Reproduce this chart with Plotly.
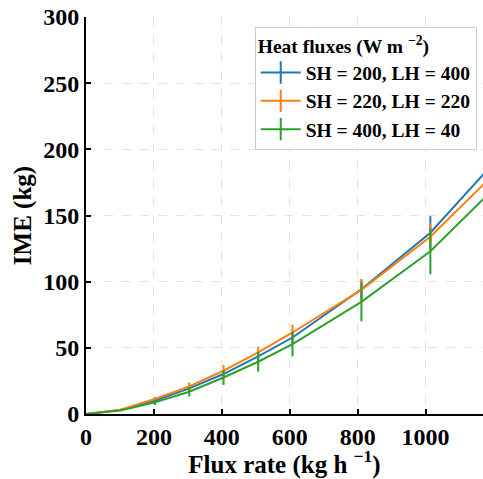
import plotly.graph_objects as go

flux_rate = [0, 101, 203, 304, 405, 507, 608, 811, 1014, 1216]

labels = ["SH = 200, LH = 400", "SH = 220, LH = 220", "SH = 400, LH = 40"]
ime_blue = [0, 3.0, 10.0, 19.4, 30.2, 43.5, 57.8, 94.3, 137.0, 194.0]
ime_orange = [0, 3.3, 11.3, 20.9, 32.7, 46.5, 61.6, 93.8, 134.0, 185.0]
ime_green = [0, 2.6, 8.8, 16.8, 27.6, 39.5, 52.8, 84.7, 123.0, 174.0]
err_blue = [0, 0.4, 1.2, 2.0, 3.0, 4.0, 5.5, 7.5, 12.5, 17.0]
err_orange = [0, 0.4, 1.6, 3.0, 4.3, 4.5, 5.8, 8.2, 10.0, 14.0]
err_green = [0, 0.5, 2.0, 3.5, 5.6, 7.5, 9.2, 14.7, 17.5, 24.0]

colors = ["#1f77b4", "#ff7f0e", "#2ca02c"]
series = [ime_blue, ime_orange, ime_green]
errors = [err_blue, err_orange, err_green]

FONT = "Liberation Serif"

fig = go.Figure()
for lab, ys, es, c in zip(labels, series, errors, colors):
    fig.add_trace(go.Scatter(
        x=flux_rate, y=ys, mode="lines",
        line=dict(color=c, width=2),
        error_y=dict(type="data", array=es, visible=True, color=c, thickness=2, width=0),
        showlegend=False, hoverinfo="skip",
    ))
for lab, c in zip(labels, colors):
    fig.add_trace(go.Scatter(
        x=[None], y=[None], mode="lines+markers", name="<b>" + lab + "</b>",
        line=dict(color=c, width=2),
        marker=dict(symbol="line-ns-open", size=16, line=dict(color=c, width=2)),
    ))

axis_common = dict(
    showline=True, linecolor="black", linewidth=2,
    ticks="inside", ticklen=5, tickwidth=1.5, tickcolor="black",
    showgrid=True, gridcolor="#e3e3e3", gridwidth=1, griddash="dash",
    zeroline=False, mirror=False, automargin=False,
    tickfont=dict(family=FONT, size=24, color="black", weight="bold"),
)

fig.update_layout(
    width=483, height=479,
    margin=dict(l=86, r=0, t=17, b=65),
    paper_bgcolor="white", plot_bgcolor="white",
    font=dict(family=FONT, color="black"),
    xaxis=dict(range=[0, 1169], tickvals=[0, 200, 400, 600, 800, 1000],
               title=dict(text="<b>Flux rate (kg h <sup>−1</sup>)</b>", font=dict(family=FONT, size=25), standoff=9),
               **axis_common),
    yaxis=dict(range=[0, 300], tickvals=[0, 50, 100, 150, 200, 250, 300],
               title=dict(text="<b>IME (kg)</b>", font=dict(family=FONT, size=25), standoff=4),
               **axis_common),
    legend=dict(
        x=0.425, y=0.975, xanchor="left", yanchor="top",
        bgcolor="white", bordercolor="#cccccc", borderwidth=1,
        font=dict(family=FONT, size=19.5, color="black"),
        title=dict(text="<b>Heat fluxes (W m <sup>−2</sup>)</b>", side="top", font=dict(family=FONT, size=19.5)),
        itemwidth=40, tracegroupgap=4,
    ),
)

fig.write_html("out.html", config={"displayModeBar": False},
               post_script="document.body.style.margin='0';document.body.style.overflow='hidden';")
